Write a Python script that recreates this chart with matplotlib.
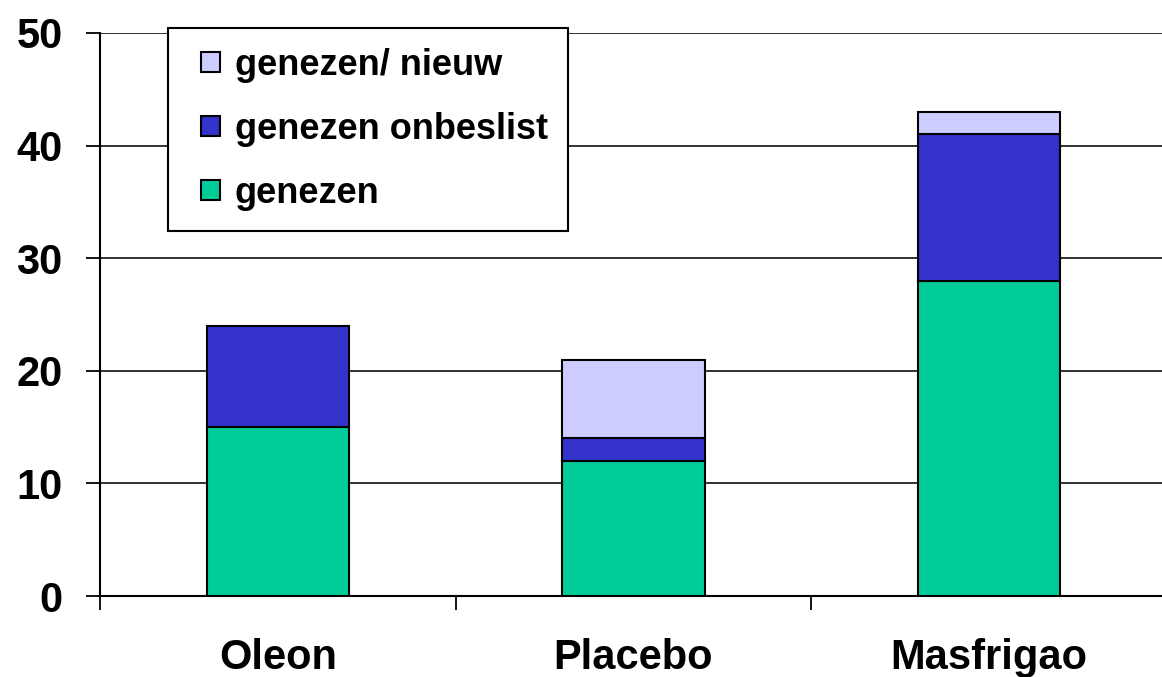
import numpy as np
import matplotlib.pyplot as plt
from matplotlib.container import BarContainer
from matplotlib.patches import Rectangle
from matplotlib.legend_handler import HandlerPatch
from matplotlib.ticker import FixedLocator

# Cured counts per treatment group, stacked
groups = ['Oleon', 'Placebo', 'Masfrigao']
genezen = [15, 12, 28]
onbeslist = [9, 2, 13]
nieuw = [0, 7, 2]

plt.rcParams['font.family'] = ['Liberation Sans', 'DejaVu Sans']
plt.rcParams['font.weight'] = 'bold'

fig = plt.figure(figsize=(11.62, 6.77), dpi=100)
ax = fig.add_axes([100 / 1162, 1 - 596 / 677, 1067 / 1162, 563 / 677])

x = np.arange(len(groups)) + 0.5
w = 0.4
edge = dict(edgecolor='black', linewidth=1.5, zorder=3)
b1 = ax.bar(x, genezen, w, color='#00CC99', label='genezen', **edge)
b2 = ax.bar(x, onbeslist, w, bottom=genezen, color='#3333CC',
            label='genezen onbeslist', **edge)
bottom2 = np.array(genezen) + np.array(onbeslist)
keep = np.array(nieuw) > 0
b3 = ax.bar(x[keep], np.array(nieuw)[keep], w, bottom=bottom2[keep],
            color='#CCCCFF', label='genezen/ nieuw', **edge)

ax.set_xlim(0, 3)
ax.set_ylim(0, 50)
ax.set_yticks(range(0, 51, 10))
ax.yaxis.grid(True, color='#222222', linewidth=1.3, zorder=0)
ax.set_axisbelow(True)

# category labels centred, separators as minor ticks
ax.set_xticks(x)
ax.set_xticklabels(groups, fontsize=30, fontweight='bold')
ax.xaxis.set_minor_locator(FixedLocator([0, 1, 2, 3]))
ax.tick_params(axis='x', which='major', length=0, pad=30)
ax.tick_params(axis='x', which='minor', length=10, width=1.3, direction='out')
ax.tick_params(axis='y', length=10, width=1.3, pad=17, labelsize=30)
for lbl in ax.get_yticklabels():
    lbl.set_fontweight('bold')

for side in ['top', 'right']:
    ax.spines[side].set_visible(False)
for side in ['left', 'bottom']:
    ax.spines[side].set_linewidth(1.5)


# small square swatch pushed to the right of the handle slot
def square_swatch(legend, orig_handle, xdescent, ydescent, width, height, fontsize):
    side = 0.55 * fontsize
    return Rectangle((width - side - xdescent, (height - side) / 2 - ydescent),
                     side, side)


swatch = HandlerPatch(patch_func=square_swatch,
                      update_func=lambda h, o: h.update_from(o.get_children()[0]))

leg = fig.legend(handles=[b3, b2, b1], loc='upper left',
                 bbox_to_anchor=(168 / 1162, 1 - 28 / 677),
                 prop={'size': 26, 'weight': 'bold'},
                 fancybox=False, framealpha=1, edgecolor='black',
                 borderpad=0.55, labelspacing=0.8, handlelength=0.9,
                 handleheight=0.55, handletextpad=0.4, borderaxespad=0,
                 handler_map={BarContainer: swatch})
leg.get_frame().set_linewidth(1.5)

fig.savefig('out.png', dpi=100)
